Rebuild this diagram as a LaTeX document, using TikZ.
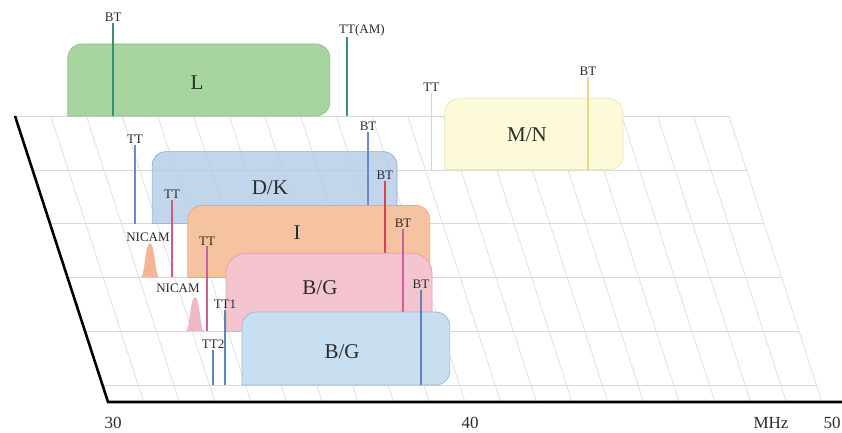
\documentclass[tikz,border=0pt]{standalone}
\usepackage{fontspec}
\setmainfont{Liberation Serif}
\usetikzlibrary{calc}

\definecolor{gridgray}{HTML}{D9D9D9}
\definecolor{labeltext}{HTML}{2B2B2B}
\definecolor{Lfill}{HTML}{A8D4A0}
\definecolor{Ledge}{HTML}{8DBE88}
\definecolor{Lline}{HTML}{3E8E70}
\definecolor{MNfill}{HTML}{FDFADA}
\definecolor{MNedge}{HTML}{EDE3AE}
\definecolor{MNline}{HTML}{EAD98A}
\definecolor{DKfill}{HTML}{B2CBE6}
\definecolor{DKedge}{HTML}{8FA9D0}
\definecolor{DKline}{HTML}{6A8BC8}
\definecolor{Ifill}{HTML}{F6C3A0}
\definecolor{Iedge}{HTML}{E3A886}
\definecolor{Iline}{HTML}{E0404E}
\definecolor{Itt}{HTML}{D45A7E}
\definecolor{Ihump}{HTML}{F4B596}
\definecolor{BGpfill}{HTML}{F4C5CE}
\definecolor{BGpedge}{HTML}{DDA2B0}
\definecolor{BGpline}{HTML}{C8609A}
\definecolor{BGphump}{HTML}{EFB9C3}
\definecolor{BGbfill}{HTML}{C8DFF1}
\definecolor{BGbedge}{HTML}{96B8D8}
\definecolor{BGbline}{HTML}{5A86BA}

\tikzset{
  gridline/.style={gridgray, line width=0.6pt},
  axisline/.style={black, line width=2.6pt},
  band/.style={line width=0.7pt},
  carrier/.style={line width=1.4pt},
  tag/.style={font=\fontsize{13}{13}\selectfont, text=labeltext, inner sep=1pt, anchor=south},
  bandname/.style={font=\fontsize{21}{21}\selectfont, text=labeltext},
  axislabel/.style={font=\fontsize{17}{17}\selectfont, text=labeltext},
}

\begin{document}
\begin{tikzpicture}[x={(35.7pt,0pt)}, y={(17.5pt,-53.8pt)}, shift={(-1056pt,316pt)}]
    \useasboundingbox (1056pt,-316pt) rectangle (1898pt,116pt);

    % Grid
    \foreach \f in {31,...,50}
        \draw[gridline] (\f,0) -- (\f,5.316);
    \foreach \r in {0,...,5}
        \draw[gridline] (30,\r) -- (50,\r);
    \draw[axisline] (30,0) -- (30,5.316) -- (50.6,5.316);

    % Axis labels
    \node[axislabel] (f30) at ($(30,5.316)+(5pt,-21pt)$) {30};
    \node[axislabel] (f40) at ($(40,5.316)+(5pt,-21pt)$) {40};
    \node[axislabel] (f50) at ($(50,5.316)+(10pt,-21pt)$) {50};
    \node[axislabel] (unit) at ($(50,5.316)+(-51pt,-21pt)$) {MHz};

    % L
    \coordinate (L-a) at (31.48,0);
    \coordinate (L-b) at (38.82,0);
    \filldraw[band, fill=Lfill, draw=Ledge] (L-a) [rounded corners=14pt] -- ++(0pt,72pt) -| (L-b) [sharp corners] -- cycle;
    \node[bandname] (L) at ($(35.10,0)+(0pt,33pt)$) {L};
    \coordinate (L-bt) at (32.75,0);
    \coordinate (L-tt) at (39.30,0);
    \node[tag] (L-bt-tag) at ($(L-bt)+(0pt,93pt)$) {BT};
    \node[tag, anchor=south west] (L-tt-tag) at ($(L-tt)+(-9pt,79pt)$) {TT(AM)};
    \draw[carrier, Lline] (L-bt) -- (L-bt |- L-bt-tag.south);
    \draw[carrier, Lline] (L-tt) -- (L-tt |- L-tt-tag.south);

    % M/N
    \coordinate (MN-a) at (41.55,1);
    \coordinate (MN-b) at (46.54,1);
    \filldraw[band, fill=MNfill, draw=MNedge] (MN-a) [rounded corners=14pt] -- ++(0pt,71pt) -| (MN-b) [sharp corners] -- cycle;
    \node[bandname] (MN) at ($(43.85,1)+(0pt,35pt)$) {M/N};
    \coordinate (MN-tt) at (41.17,1);
    \coordinate (MN-bt) at (45.56,1);
    \node[tag] (MN-tt-tag) at ($(MN-tt)+(0pt,77pt)$) {TT};
    \node[tag] (MN-bt-tag) at ($(MN-bt)+(0pt,93pt)$) {BT};
    \draw[carrier, MNline] (MN-tt) -- (MN-tt-tag);
    \draw[carrier, MNline] (MN-bt) -- (MN-bt-tag);

    % D/K
    \coordinate (DK-a) at (32.86,2);
    \coordinate (DK-b) at (39.72,2);
    \filldraw[band, fill=DKfill, fill opacity=0.8, draw=DKedge] (DK-a) [rounded corners=14pt] -- ++(0pt,72pt) -| (DK-b) [sharp corners] -- cycle;
    \node[bandname] (DK) at ($(36.16,2)+(0pt,35.6pt)$) {D/K};
    \coordinate (DK-tt) at (32.38,2);
    \coordinate (DK-bt) at (38.91,2);
    \node[tag] (DK-tt-tag) at ($(DK-tt)+(0pt,78.6pt)$) {TT};
    \node[tag] (DK-bt-tag) at ($(DK-bt)+(0pt,91.6pt)$) {BT};
    \draw[carrier, DKline] (DK-tt) -- (DK-tt-tag);
    \draw[carrier, DKline] (DK-bt) -- (DK-bt-tag);

    % I
    \coordinate (I-a) at (33.37,3);
    \coordinate (I-b) at (40.15,3);
    \filldraw[band, fill=Ifill, draw=Iedge] (I-a) [rounded corners=14pt] -- ++(0pt,72pt) -| (I-b) [sharp corners] -- cycle;
    \node[bandname] (I) at ($(36.43,3)+(0pt,45pt)$) {I};
    \coordinate (I-n) at (32.31,3);
    \fill[Ihump] ($(I-n)+(-9pt,0pt)$) .. controls ($(I-n)+(-5pt,2pt)$) and ($(I-n)+(-5pt,34pt)$) .. ($(I-n)+(0pt,34pt)$)
        .. controls ($(I-n)+(5pt,34pt)$) and ($(I-n)+(5pt,2pt)$) .. ($(I-n)+(9pt,0pt)$) -- cycle;
    \node[tag, anchor=center] (I-n-tag) at ($(I-n)+(-2pt,40pt)$) {NICAM};
    \coordinate (I-tt) at (32.93,3);
    \coordinate (I-bt) at (38.89,3);
    \node[tag] (I-tt-tag) at ($(I-tt)+(0pt,77.4pt)$) {TT};
    \node[tag] (I-bt-tag) at ($(I-bt)+(0pt,96.4pt)$) {BT};
    \draw[carrier, Itt] (I-tt) -- (I-tt-tag);
    \draw[carrier, Iline] (I-bt) -- (I-bt-tag);

    % B/G (pink)
    \coordinate (BGp-a) at (33.95,4);
    \coordinate (BGp-b) at (39.72,4);
    \filldraw[band, fill=BGpfill, draw=BGpedge] (BGp-a) [rounded corners=20pt] -- ++(0pt,78pt) -| (BGp-b) [sharp corners] -- cycle;
    \node[bandname] (BGp) at ($(36.58,4)+(0pt,44pt)$) {B/G};
    \coordinate (BGp-n) at (33.08,4);
    \fill[BGphump] ($(BGp-n)+(-9pt,0pt)$) .. controls ($(BGp-n)+(-5pt,2pt)$) and ($(BGp-n)+(-5pt,34pt)$) .. ($(BGp-n)+(0pt,34pt)$)
        .. controls ($(BGp-n)+(5pt,34pt)$) and ($(BGp-n)+(5pt,2pt)$) .. ($(BGp-n)+(9pt,0pt)$) -- cycle;
    \node[tag, anchor=center] (BGp-n-tag) at ($(BGp-n)+(-17pt,43pt)$) {NICAM};
    \coordinate (BGp-tt) at (33.42,4);
    \coordinate (BGp-bt) at (38.91,4);
    \node[tag] (BGp-tt-tag) at ($(BGp-tt)+(0pt,85pt)$) {TT};
    \node[tag] (BGp-bt-tag) at ($(BGp-bt)+(0pt,102pt)$) {BT};
    \draw[carrier, BGpline] (BGp-tt) -- (BGp-tt-tag);
    \draw[carrier, BGpline] (BGp-bt) -- (BGp-bt-tag);

    % B/G (blue)
    \coordinate (BGb-a) at (33.91,5);
    \coordinate (BGb-b) at (39.73,5);
    \filldraw[band, fill=BGbfill, draw=BGbedge] (BGb-a) [rounded corners=14pt] -- ++(0pt,73pt) -| (BGb-b) [sharp corners] -- cycle;
    \node[bandname] (BGb) at ($(36.71,5)+(0pt,33pt)$) {B/G};
    \coordinate (BGb-tt1) at (33.43,5);
    \coordinate (BGb-tt2) at (33.10,5);
    \coordinate (BGb-bt) at (38.92,5);
    \node[tag] (BGb-tt1-tag) at ($(BGb-tt1)+(0pt,75pt)$) {TT1};
    \node[tag] (BGb-tt2-tag) at ($(BGb-tt2)+(0pt,35pt)$) {TT2};
    \node[tag] (BGb-bt-tag) at ($(BGb-bt)+(0pt,95pt)$) {BT};
    \draw[carrier, BGbline] (BGb-tt1) -- (BGb-tt1-tag);
    \draw[carrier, BGbline] (BGb-tt2) -- (BGb-tt2-tag);
    \draw[carrier, BGbline] (BGb-bt) -- (BGb-bt-tag);
\end{tikzpicture}
\end{document}
